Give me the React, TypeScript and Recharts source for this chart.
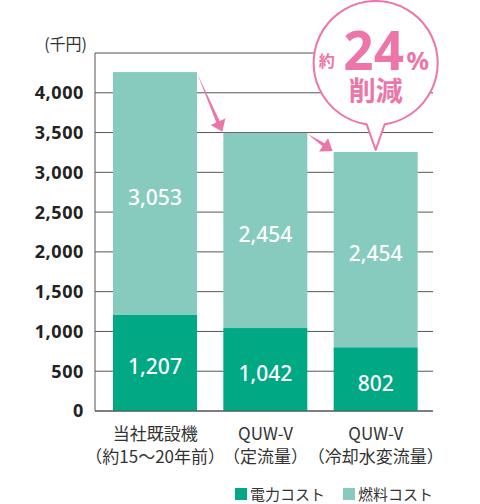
import React from "react";
import { BarChart, Bar, XAxis, YAxis, CartesianGrid, LabelList } from "recharts";

const categoriesTop = ["当社既設機", "QUW-V", "QUW-V"];
const categoriesBottom = ["（約15～20年前）", "（定流量）", "（冷却水変流量）"];
const powerCost = [1207, 1042, 802];
const fuelCost = [3053, 2454, 2454];
const yTicks = [0, 500, 1000, 1500, 2000, 2500, 3000, 3500, 4000, 4500];
const seriesNames = ["電力コスト", "燃料コスト"];
const unitLabel = "(千円)";
const badgeText = { pre: "約", num: "24", pct: "%", sub: "削減" };

const DARK = "#00a884";
const LIGHT = "#86cbbe";
const PINK = "#ec75a9";
const GRID = "#555";
const JP = "'Noto Sans CJK JP', 'Noto Sans', sans-serif";
const NUM = "'Noto Sans', 'Noto Sans CJK JP', sans-serif";

// chart geometry
const W = 480;
const H = 504;
const PLOT_LEFT = 95;
const PLOT_RIGHT = 433;
const PAD_L = 5;
const PAD_R = 2;
const STEP = (PLOT_RIGHT - PLOT_LEFT - PAD_L - PAD_R) / categoriesTop.length;

const data = categoriesTop.map((c, i) => ({
  key: i,
  top: c,
  bottom: categoriesBottom[i],
  power: powerCost[i],
  fuel: fuelCost[i],
}));

const totals = data.map((d) => d.power + d.fuel);

function XTick(props: any) {
  const { x, y, payload } = props;
  const d = data[payload.value];
  return (
    <g fill="#333" fontFamily={JP} fontSize={17} textAnchor="middle">
      <text x={x} y={y + 21}>{d.top}</text>
      <text x={x} y={y + 44}>{d.bottom}</text>
    </g>
  );
}

function Arrow({ x1, y1, x2, y2 }: { x1: number; y1: number; x2: number; y2: number }) {
  const dx = x2 - x1;
  const dy = y2 - y1;
  const len = Math.hypot(dx, dy);
  const ux = dx / len;
  const uy = dy / len;
  const px = -uy;
  const py = ux;
  const headLen = 11;
  const headW = 8;
  const bx = x2 - ux * headLen;
  const by = y2 - uy * headLen;
  const shaft = 1.8;
  return (
    <path
      d={`M${x1} ${y1} L${bx + px * shaft} ${by + py * shaft} L${bx + px * headW} ${by + py * headW} L${x2} ${y2} L${bx - px * headW} ${by - py * headW} L${bx - px * shaft} ${by - py * shaft} Z`}
      fill={PINK}
    />
  );
}

function Badge({ tipX, tipY }: { tipX: number; tipY: number }) {
  const cx = tipX;
  const cy = tipY - 87;
  const r = 62;
  const half = 9;
  const by = cy + Math.sqrt(r * r - half * half);
  return (
    <g>
      <path
        d={`M${cx - half} ${by} A${r} ${r} 0 1 1 ${cx + half} ${by} L${cx} ${tipY} Z`}
        fill="#fff"
        stroke={PINK}
        strokeWidth={2}
        strokeLinejoin="round"
      />
      <g fill={PINK} fontWeight="bold">
        <text x={cx - 49} y={cy + 4} fontSize={16} fontFamily={JP} textAnchor="middle">{badgeText.pre}</text>
        <text x={cx - 2} y={cy + 7} fontSize={53} fontFamily={NUM} textAnchor="middle">{badgeText.num}</text>
        <text x={cx + 42} y={cy + 7} fontSize={25} fontFamily={NUM} textAnchor="middle">{badgeText.pct}</text>
        <text x={cx + 0} y={cy + 38} fontSize={27} fontFamily={JP} textAnchor="middle">{badgeText.sub}</text>
      </g>
    </g>
  );
}

function FuelShape(props: any) {
  const { x, y, width, height, index } = props;
  const ppu = height / fuelCost[index];
  const next = index + 1;
  return (
    <g>
      <rect x={x} y={y} width={width} height={height} fill={LIGHT} />
      {next < totals.length && (
        <Arrow
          x1={x + width}
          y1={y + 1}
          x2={x + STEP - 1}
          y2={y + (totals[index] - totals[next]) * ppu - 1}
        />
      )}
      {index === totals.length - 1 && <Badge tipX={x + width / 2} tipY={y - 2} />}
    </g>
  );
}

export default function App() {
  return (
    <div style={{ position: "absolute", left: 0, top: 0, width: W, height: H, background: "#fff" }}>
      <BarChart
        width={W}
        height={H}
        data={data}
        margin={{ top: 53, right: W - PLOT_RIGHT, left: 0, bottom: 33 }}
        barSize={84}
      >
        <CartesianGrid horizontal vertical={false} stroke={GRID} strokeWidth={1} />
        <XAxis
          dataKey="key"
          height={60}
          axisLine={{ stroke: GRID }}
          tickLine={false}
          tick={<XTick />}
          padding={{ left: PAD_L, right: PAD_R }}
          interval={0}
        />
        <YAxis
          width={PLOT_LEFT}
          domain={[0, 4500]}
          ticks={yTicks}
          interval={0}
          axisLine={{ stroke: GRID }}
          tickLine={false}
          tickMargin={5}
          tickFormatter={(v: number) => (v === 4500 ? "" : v.toLocaleString("en-US"))}
          tick={{ fill: "#222", fontSize: 18, fontWeight: "bold", fontFamily: NUM, letterSpacing: 0.6 }}
        />
        <Bar dataKey="power" name={seriesNames[0]} stackId="a" fill={DARK} isAnimationActive={false}>
          <LabelList
            dataKey="power"
            position="center"
            formatter={(v: any) => Number(v).toLocaleString("en-US")}
            fill="#fff"
            fontSize={21}
            fontWeight={500}
            fontFamily={NUM}
            dy={4}
          />
        </Bar>
        <Bar dataKey="fuel" name={seriesNames[1]} stackId="a" fill={LIGHT} shape={<FuelShape />} isAnimationActive={false}>
          <LabelList
            dataKey="fuel"
            position="center"
            formatter={(v: any) => Number(v).toLocaleString("en-US")}
            fill="#fff"
            fontSize={21}
            fontWeight={500}
            fontFamily={NUM}
            dy={4}
          />
        </Bar>
        <text x={87} y={50} textAnchor="end" fontSize={16} fontFamily={JP} fill="#333">
          {unitLabel}
        </text>
      </BarChart>
      <div
        style={{
          position: "absolute",
          left: 235,
          top: 484,
          display: "flex",
          alignItems: "center",
          fontFamily: JP,
          fontSize: 15,
          color: "#333",
          lineHeight: "20px",
        }}
      >
        <span style={{ width: 12, height: 12, background: DARK, display: "inline-block", marginRight: 3 }} />
        <span style={{ marginRight: 18 }}>{seriesNames[0]}</span>
        <span style={{ width: 12, height: 12, background: LIGHT, display: "inline-block", marginRight: 3 }} />
        <span>{seriesNames[1]}</span>
      </div>
    </div>
  );
}
